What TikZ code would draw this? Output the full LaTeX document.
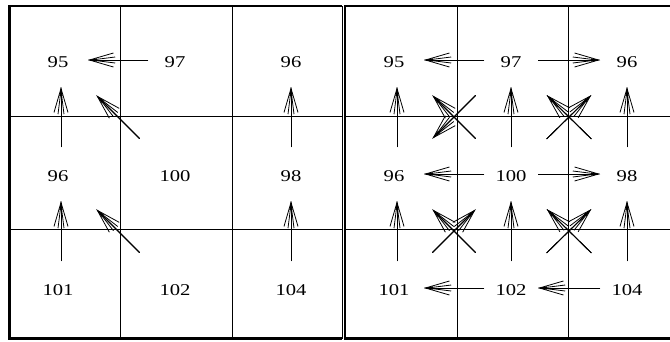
\documentclass[tikz,border=0pt]{standalone}
\usepackage{fontspec}
\newfontfamily\cellfont[FakeStretch=1.25]{Liberation Serif}
\usetikzlibrary{arrows.meta}
\tikzset{
  cellval/.style={font=\cellfont\fontsize{16.5}{16.5}\selectfont,inner sep=0pt,yshift=-2pt},
  gridline/.style={line width=1pt},
  frame/.style={line width=2.7pt},
  flowarrow/.style={line width=0.8pt,-{Straight Barb[length=24pt,width=14pt]},
    postaction={draw,-{Straight Barb[length=24pt,width=6pt]}},
    postaction={draw,-{Triangle[length=9pt,width=3pt]}}},
  hvgap/.style={shorten <=27pt,shorten >=27pt},
  diaggap/.style={shorten <=50pt,shorten >=50pt}
}
\begin{document}
\begin{tikzpicture}[x=1pt,y=-1pt]
\useasboundingbox (0,0) rectangle (670,341);
% lattice points, left and right grid
\foreach \c/\x in {1/61,2/175,3/291}
  \foreach \r/\y in {1/60,2/174,3/288}{
    \coordinate (L\r\c) at (\x,\y);
    \coordinate (R\r\c) at (\x+336,\y);
  }
% left grid
\draw[gridline] (120,6) -- (120,338.5);
\draw[gridline] (232,6) -- (232,338.5);
\draw[gridline] (9.7,116) -- (342,116);
\draw[gridline] (9.7,229) -- (342,229);
\draw[gridline] (342,6) -- (342,338.5);
\draw[frame] (342,6) -- (9.7,6) -- (9.7,338.5) -- (342,338.5);
\node[cellval,xshift=-3pt] (l11) at (L11) {95};
\node[cellval] (l12) at (L12) {97};
\node[cellval] (l13) at (L13) {96};
\node[cellval,xshift=-3pt] (l21) at (L21) {96};
\node[cellval] (l22) at (L22) {100};
\node[cellval] (l23) at (L23) {98};
\node[cellval,xshift=-3pt] (l31) at (L31) {101};
\node[cellval] (l32) at (L32) {102};
\node[cellval] (l33) at (L33) {104};
\draw[flowarrow,hvgap] (L12) -- (L11);
\draw[flowarrow,hvgap] (L21) -- (L11);
\draw[flowarrow,hvgap] (L31) -- (L21);
\draw[flowarrow,hvgap] (L23) -- (L13);
\draw[flowarrow,hvgap] (L33) -- (L23);
\draw[flowarrow,diaggap] (L22) -- (L11);
\draw[flowarrow,diaggap] (L32) -- (L21);
% right grid
\draw[gridline] (457,6) -- (457,338.5);
\draw[gridline] (568,6) -- (568,338.5);
\draw[gridline] (345,116) -- (672,116);
\draw[gridline] (345,229) -- (672,229);
\draw[frame] (672,6) -- (345,6) -- (345,338.5) -- (672,338.5);
\node[cellval,xshift=-3pt] (r11) at (R11) {95};
\node[cellval] (r12) at (R12) {97};
\node[cellval] (r13) at (R13) {96};
\node[cellval,xshift=-3pt] (r21) at (R21) {96};
\node[cellval] (r22) at (R22) {100};
\node[cellval] (r23) at (R23) {98};
\node[cellval,xshift=-3pt] (r31) at (R31) {101};
\node[cellval] (r32) at (R32) {102};
\node[cellval] (r33) at (R33) {104};
\foreach \a/\b in {R12/R11,R12/R13,R22/R21,R22/R23,R32/R31,R33/R32,
                   R21/R11,R31/R21,R22/R12,R32/R22,R23/R13,R33/R23}
  \draw[flowarrow,hvgap] (\a) -- (\b);
\foreach \a/\b in {R22/R11,R12/R21,R22/R13,R23/R12,
                   R32/R21,R31/R22,R33/R22,R32/R23}
  \draw[flowarrow,diaggap] (\a) -- (\b);
\end{tikzpicture}
\end{document}
